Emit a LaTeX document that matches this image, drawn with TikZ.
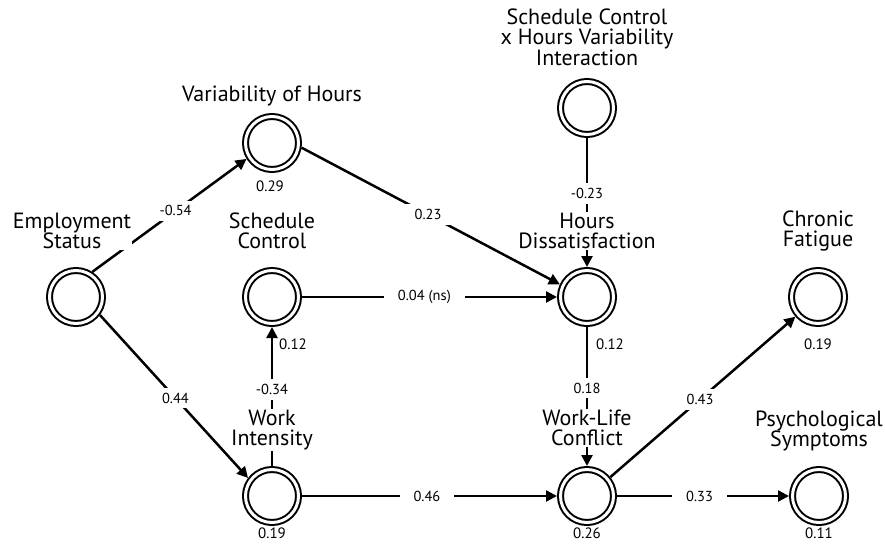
\documentclass[tikz,border=0pt]{standalone}
\usepackage{fontspec}
\setmainfont{PT Sans}
\usetikzlibrary{positioning, arrows.meta}

\begin{document}
\begin{tikzpicture}[%
  VertexStyle/.style={shape=circle,draw=black,line width=2pt,double=white,
    double distance=3pt,minimum size=53pt,inner sep=0pt,outer sep=3.5pt},
  TitleStyle/.style={fill=white,inner sep=1pt,align=center,
    font=\fontsize{22}{20.5}\selectfont},
  ValueStyle/.style={font=\fontsize{15}{16}\selectfont},
  EdgeStyle/.style={draw=black,line width=2.5pt,
    -{Triangle[length=11pt,width=11pt]}},
  LabelStyle/.style={fill=white,inner xsep=14pt,inner ysep=5pt,
    font=\fontsize{14.5}{16}\selectfont},
  on grid]
  \path[fill=white] (0,0) rectangle (885pt,-546pt);
  \node[VertexStyle] (emp) at (76pt,-297pt) {};            % employment status
  \node[VertexStyle,above right=154pt and 196pt of emp] (var) {}; % north east of emp
  \node[VertexStyle,right=196pt of emp] (sc) {};           % east of emp
  \node[VertexStyle,below=199pt of sc] (wi) {};            % south of sc
  \node[VertexStyle,right=315pt of sc] (hd) {};            % east of sc
  \node[VertexStyle,above=189pt of hd] (int) {};           % north of hd
  \node[VertexStyle,right=231pt of hd] (cf) {};            % east of hd
  \node[VertexStyle,below=199pt of hd] (wlc) {};           % south of hd
  \node[VertexStyle,right=232pt of wlc] (ps) {};           % east of wlc
  \draw[EdgeStyle] (emp.57) -- node[LabelStyle,pos=.54] {-0.54} (var.212);
  \draw[EdgeStyle] (emp.-37) -- node[LabelStyle,pos=.51] {0.44} (wi.143);
  \draw[EdgeStyle] (var.-9) -- node[LabelStyle,pos=.49] {0.23} (hd.155);
  \draw[EdgeStyle] (sc) -- node[LabelStyle,pos=.48] {0.04 (ns)} (hd);
  \draw[EdgeStyle] (wi) -- node[LabelStyle,pos=.55] {-0.34} (sc);
  \draw[EdgeStyle] (int) -- node[LabelStyle,pos=.43] {-0.23} (hd);
  \draw[EdgeStyle] (hd) -- node[LabelStyle,pos=.44] {0.18} (wlc);
  \draw[EdgeStyle] (wlc.39) -- node[LabelStyle,pos=.485] {0.43} (cf.221);
  \draw[EdgeStyle] (wi) -- node[LabelStyle,pos=.49] {0.46} (wlc);
  \draw[EdgeStyle] (wlc) -- node[LabelStyle,pos=.48] {0.33} (ps);
  % titles over the vertices
  \node[TitleStyle,above left=66pt and 4pt of emp] (empT) {Employment\\Status};
  \node[TitleStyle,above=47pt of var] (varT) {Variability of Hours};
  \node[TitleStyle,above=66pt of sc] (scT) {Schedule\\Control};
  \node[TitleStyle,above=66pt of wi] (wiT) {Work\\Intensity};
  \node[TitleStyle,above=66pt of hd] (hdT) {Hours\\Dissatisfaction};
  \node[TitleStyle,above=71pt of int] (intT) {Schedule Control\\x Hours Variability\\Interaction};
  \node[TitleStyle,above=66pt of cf] (cfT) {Chronic\\Fatigue};
  \node[TitleStyle,above=68pt of wlc] (wlcT) {Work-Life\\Conflict};
  \node[TitleStyle,above=65pt of ps] (psT) {Psychological\\Symptoms};
  % explained variance under the vertices
  \node[ValueStyle,below left=43pt and 2pt of var] (varV) {0.29};
  \node[ValueStyle,below right=47pt and 21pt of sc] (scV) {0.12};
  \node[ValueStyle,below right=47pt and 23pt of hd] (hdV) {0.12};
  \node[ValueStyle,below=47pt of cf] (cfV) {0.19};
  \node[ValueStyle,below=37pt of wi] (wiV) {0.19};
  \node[ValueStyle,below=37pt of wlc] (wlcV) {0.26};
  \node[ValueStyle,below=37pt of ps] (psV) {0.11};
\end{tikzpicture}
\end{document}
